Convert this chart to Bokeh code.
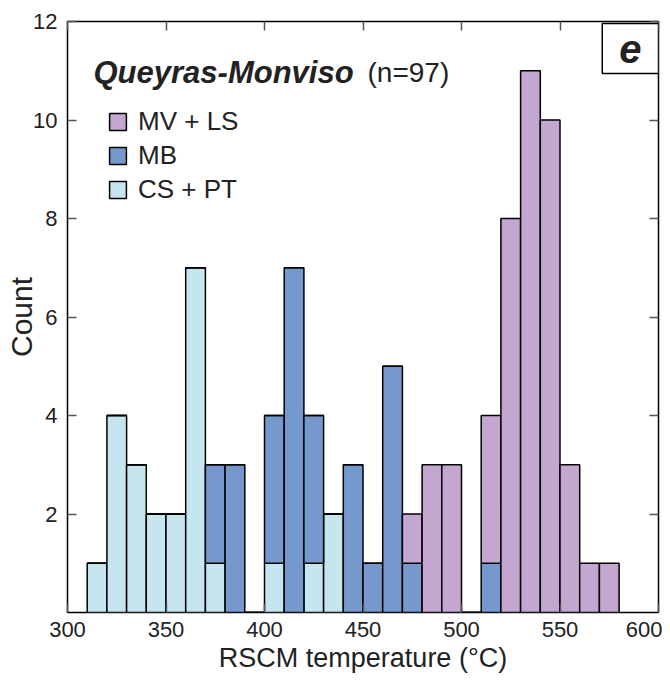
from bokeh.plotting import figure
from bokeh.models import Range1d, LinearAxis, FixedTicker, Legend, LegendItem, Label
from bokeh.embed import file_html
from bokeh.resources import INLINE

# ---- data ----
bin_starts = [310, 320, 330, 340, 350, 360, 370, 380, 390, 400, 410, 420, 430, 440,
              450, 460, 470, 480, 490, 500, 510, 520, 530, 540, 550, 560, 570]
bin_width = 10
cs_pt = [1, 4, 3, 2, 2, 7, 1, 0, 0, 1, 0, 1, 2, 0, 0, 0, 0, 0, 0, 0, 0, 0, 0, 0, 0, 0, 0]
mb    = [0, 0, 0, 0, 0, 0, 2, 3, 0, 3, 7, 3, 0, 3, 1, 5, 1, 0, 0, 0, 1, 0, 0, 0, 0, 0, 0]
mv_ls = [0, 0, 0, 0, 0, 0, 0, 0, 0, 0, 0, 0, 0, 0, 0, 0, 1, 3, 3, 0, 3, 8, 11, 10, 3, 1, 1]
series_labels = ["CS + PT", "MB", "MV + LS"]
x_ticks = [300, 350, 400, 450, 500, 550, 600]
y_ticks = [2, 4, 6, 8, 10, 12]

FONT = "Liberation Sans"
TXT = "#222222"
colors = ["#C6E6EF", "#7599CD", "#C3A7D0"]

centers = [b + bin_width / 2 for b in bin_starts]
data = dict(x=centers, cs=cs_pt, mb=mb, mv=mv_ls)

p = figure(width=662, height=675, x_range=Range1d(300, 600), y_range=Range1d(0, 12),
           output_backend="svg", toolbar_location=None,
           min_border_left=67, min_border_right=4, min_border_top=21, min_border_bottom=40,
           x_axis_label="RSCM temperature (°C)", y_axis_label="Count")
p.xgrid.visible = False
p.ygrid.visible = False
p.outline_line_color = "black"
p.outline_line_width = 1.5
p.background_fill_color = "white"
p.border_fill_color = "white"

rs = p.vbar_stack(["cs", "mb", "mv"], x="x", width=bin_width, source=data,
                  fill_color=colors, line_color="black", line_width=1.5)

xa = p.xaxis[0]
ya = p.yaxis[0]
xa.ticker = FixedTicker(ticks=x_ticks)
ya.ticker = FixedTicker(ticks=y_ticks)
for ax in (xa, ya):
    ax.axis_line_color = None
    ax.major_tick_in = 9
    ax.major_tick_out = 0
    ax.major_tick_line_color = "#555555"
    ax.major_tick_line_width = 1.5
    ax.minor_tick_line_color = None
    ax.major_label_text_font = FONT
    ax.major_label_text_font_size = "22px"
    ax.major_label_text_color = TXT
    ax.axis_label_text_font = FONT
    ax.axis_label_text_font_style = "normal"
    ax.axis_label_text_color = TXT
xa.axis_label_text_font_size = "27px"
ya.axis_label_text_font_size = "30px"
xa.major_label_standoff = 9
xa.axis_label_standoff = 3
ya.major_label_standoff = 10
ya.axis_label_standoff = -8

top = LinearAxis(ticker=FixedTicker(ticks=x_ticks))
right = LinearAxis(ticker=FixedTicker(ticks=y_ticks))
for ax in (top, right):
    ax.axis_line_color = None
    ax.major_tick_in = 9
    ax.major_tick_out = 0
    ax.major_tick_line_color = "#555555"
    ax.major_tick_line_width = 1.5
    ax.minor_tick_line_color = None
    ax.major_label_text_font_size = "1px"
    ax.major_label_text_color = None
    ax.major_label_standoff = 0
p.add_layout(top, "above")
p.add_layout(right, "right")

legend = Legend(items=[LegendItem(label=series_labels[2], renderers=[rs[2]]),
                       LegendItem(label=series_labels[1], renderers=[rs[1]]),
                       LegendItem(label=series_labels[0], renderers=[rs[0]])],
                location=(40, 407), padding=0, margin=0, spacing=3,
                glyph_width=21, glyph_height=21, label_standoff=10,
                label_text_font=FONT, label_text_font_size="26px",
                label_text_color=TXT, border_line_color=None,
                background_fill_alpha=0)
p.add_layout(legend, "center")

title1 = Label(x=26, y=540, x_units="screen", y_units="screen", text="Queyras-Monviso",
               text_font=FONT, text_font_size="31px", text_font_style="bold italic",
               text_color=TXT, text_baseline="alphabetic")
title2 = Label(x=300, y=540, x_units="screen", y_units="screen", text="(n=97)",
               text_font=FONT, text_font_size="28px", text_color=TXT,
               text_baseline="alphabetic")
panel = Label(x=591, y=589, x_units="screen", y_units="screen", text="e",
              anchor="top_right", text_font=FONT, text_font_size="40px",
              text_font_style="bold italic", text_color=TXT,
              border_line_color="black", border_line_width=1.5,
              background_fill_color="white",
              padding=dict(left=17, right=17, top=11, bottom=11))
p.add_layout(title1)
p.add_layout(title2)
p.add_layout(panel)

open("out.html", "w").write(file_html(p, INLINE))
